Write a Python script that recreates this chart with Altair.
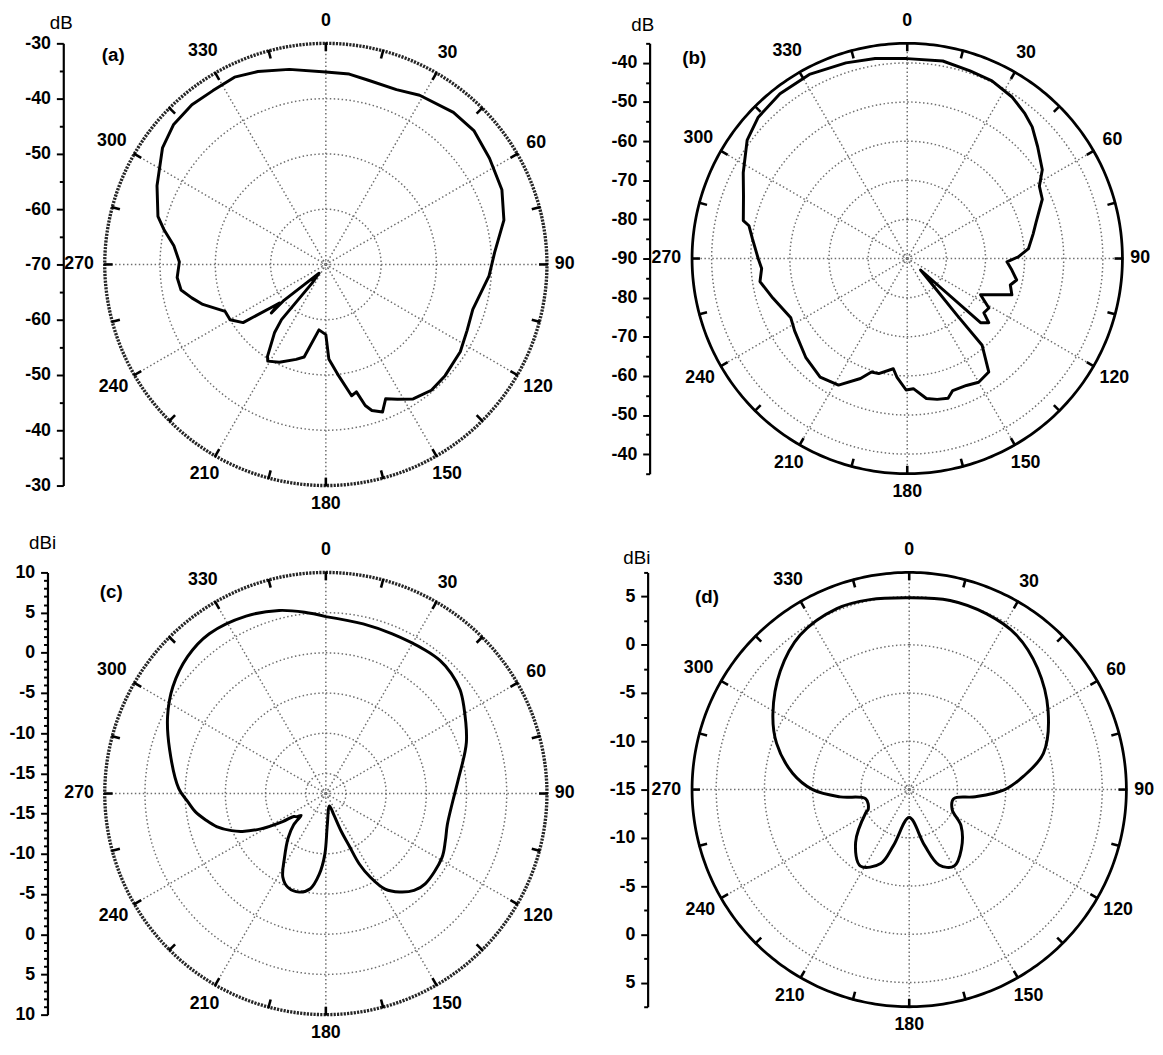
import altair as alt
import pandas as pd

# ---------------- data ----------------
# (a) radiation pattern, dB (angle in degrees, clockwise from top)
A_ANG = [0, 7, 13, 22, 29, 40, 48, 57, 67, 76, 86, 94, 107, 115, 123, 133, 140, 147, 152, 156,
         159, 162.5, 164.4, 166.5, 168.9, 173.4, 178.2, 180, 186, 193.2, 197.4, 205.4, 211, 212.4, 217,
         218.8, 216.4, 217.9, 229.4, 228.3, 230.3, 231.5, 234.9, 240, 245, 252, 256, 260, 265, 271,
         277, 282, 286, 295, 305.5, 312.5, 320, 327, 334, 340.6, 349.4, 360]
A_VAL = [-35.2, -35.3, -35.8, -35.9, -35.0, -34.1, -33.9, -34.7, -35.4, -36.8, -39.4, -40.4, -42.2, -41.8, -41.0,
         -40.5, -40.3, -41.0, -42.4, -43.4, -41.4, -42.3, -43.5, -46.3, -45.8, -49.7, -52.9, -57.3, -58.1, -52.8,
         -52.0, -50.4, -49.6, -50.3, -54.6, -57.2, -65.8, -68.0, -60.1, -56.8, -59.1, -57.7, -51.7, -50.0, -49.9,
         -46.6, -45.0, -43.4, -43.0, -43.5, -42.3, -40.1, -38.4, -36.3, -33.7, -32.6, -32.3, -32.5, -32.3, -33.0,
         -34.1, -35.2]

# (b) radiation pattern, dB
B_ANG = [0, 10.2, 18.5, 25.5, 33.1, 39.1, 43.5, 49.4, 56.7, 61.3, 66.3, 74.3, 78.9, 85.3, 89.1, 91.9, 96.3,
         101.1, 104.4, 109.1, 116.3, 121.2, 125.3, 128.2, 131.2, 130.7, 138.7, 139.2, 144.3, 150, 155, 161,
         163.7, 168, 172.2, 177.3, 180.5, 185, 187.2, 193.9, 197.5, 201.3, 208.5, 216.3, 225.8, 237.3, 243,
         253.6, 261.1, 266.1, 270, 277.3, 281.7, 283, 290.9, 297.6, 306.5, 313.5, 322.3, 332, 342.6, 350.9, 360]
B_VAL = [-38.9, -38.7, -39.4, -39.7, -40.8, -42.3, -43.6, -46.1, -48.7, -51.5, -52.3, -55.8, -57.2, -58.9, -61.6,
         -64.5, -63.1, -61.5, -62.8, -61.7, -69.1, -65.6, -66.0, -63.5, -65.1, -85.5, -70.5, -60.7, -54.3, -53.5,
         -54.2, -54.3, -52.8, -53.2, -53.9, -56.7, -56.4, -59.6, -61.6, -59.7, -59.6, -57.1, -53.2, -52.4, -53.8,
         -55.8, -56.6, -54.2, -51.9, -52.7, -51.9, -50.1, -48.7, -47.0, -45.2, -42.7, -39.1, -37.5, -36.8, -36.7,
         -37.6, -38.2, -38.9]

# (c) gain pattern, dBi
C_ANG = [0, 12.4, 22.6, 34.8, 40.6, 46.2, 52.3, 57.7, 70, 83.6, 93.7, 104.5, 111.8, 119, 132.3, 137.7, 143.2,
         148.2, 152, 154.6, 156, 157.8, 159.5, 163.8, 177.3, 181, 184.7, 189.3, 195.1, 201.9, 207.2, 212.8,
         220.3, 225.8, 228.5, 231.1, 234.4, 237, 241.5, 245.6, 248.5, 253.2, 257.6, 262.1, 266.6, 271.9, 285.8,
         296, 304.9, 314.7, 323.9, 335.8, 345.7, 353.3, 360]
C_VAL = [4.5, 4.1, 4.0, 4.2, 4.3, 4.1, 3.6, 2.8, 1.1, -0.9, -1.7, -1.9, -1.5, -1.0, -0.8, -1.2, -2.2,
         -3.5, -5.7, -7.8, -10.5, -12.4, -14.7, -15.9, -13.6, -9.9, -7.4, -5.5, -4.8, -4.9, -5.8, -8.0,
         -10.25, -11.9, -13.4, -12.9, -12.6, -11.1, -8.3, -6.1, -4.9, -3.3, -2.2, -1.1, -0.3, 0.8, 2.7,
         4.4, 5.7, 6.7, 7.1, 6.7, 6.0, 5.2, 4.5]

# (d) gain pattern, dBi
D_ANG = [0, 12.2, 23.8, 34.6, 46.6, 60.4, 74.9, 83.4, 90, 96.2, 101.6, 114.8, 124.9, 138.8, 149.7, 158.4,
         164.6, 180, 195.7, 201.1, 212.5, 225.4, 241.9, 244.5, 258, 264, 270, 278, 289.2, 299, 312.6, 324.8,
         338.2, 348.3, 360]
D_VAL = [4.87, 5.05, 4.9, 4.5, 3.3, 1.55, -0.6, -3.1, -5.1, -8.1, -10.3, -10.1, -8.45, -6.8, -5.8, -6.6,
         -9.0, -12.1, -9.0, -6.8, -5.6, -7.2, -9.9, -10.3, -10.4, -7.8, -5.0, -2.8, -0.45, 1.15, 3.15, 4.6,
         5.2, 5.1, 4.87]

ANGLE_LABELS = [0, 30, 60, 90, 120, 150, 180, 210, 240, 270, 300, 330]
TICK_ANGLES = list(range(0, 360, 15))

PANELS = [
    dict(tag="(a)", unit="dB", ang=A_ANG, val=A_VAL, center=-70, outer=-30, rings=[-60, -50, -40],
         rpx=224, step=5, major=10, offset=42, unitpos=(-44, -21), dashed=True, smooth=False, tagpos=(-3, 12)),
    dict(tag="(b)", unit="dB", ang=B_ANG, val=B_VAL, center=-90, outer=-35, rings=[-80, -70, -60, -50, -40],
         rpx=218, step=5, major=10, offset=43, unitpos=(-50, -18), dashed=False, smooth=False, tagpos=(-10, 15)),
    dict(tag="(c)", unit="dBi", ang=C_ANG, val=C_VAL, center=-17.5, outer=10, rings=[-15, -10, -5, 0, 5],
         rpx=224, step=1, major=5, offset=58, unitpos=(-63, -30), dashed=True, smooth=True, tagpos=(-5, 20)),
    dict(tag="(d)", unit="dBi", ang=D_ANG, val=D_VAL, center=-15, outer=7.5, rings=[-10, -5, 0, 5],
         rpx=220, step=2.5, major=5, offset=45, unitpos=(-56, -15), dashed=False, smooth=True, tagpos=(3, 25)),
]

FONT = "Liberation Sans"


def make_panel(p):
    C = p["center"]
    O = p["outer"]
    Rdb = O - C
    R = p["rpx"]
    ppu = R / Rdb  # pixels per dB

    sc = alt.Scale(domain=[-Rdb, Rdb], nice=False, zero=False)

    # axis tick values (offset from the centre, mirrored)
    n = int(round(Rdb / p["step"]))
    vals = [round(k * p["step"], 3) for k in range(-n, n + 1)]
    if p["step"] == 1:  # (c): ticks fall at half-integer offsets
        vals = [round(k + 0.5, 3) for k in range(-28, 28) if abs(k + 0.5) <= Rdb + 1e-6]
    major = f"abs(({C} + abs(datum.value)) % {p['major']}) < 0.01"
    yaxis = alt.Axis(
        values=vals,
        labelExpr=f"{major} ? '' + ({C} + abs(datum.value)) : ''",
        tickSize={"condition": {"test": major, "value": 7}, "value": 4},
        tickWidth=2, tickColor="black", domainWidth=2.2, domainColor="black",
        labelColor="black", labelFont=FONT, labelFontSize=18, labelFontWeight="bold",
        labelPadding=6, labelOverlap=False, labelFlush=False, grid=False,
        offset=p["offset"], title=None,
    )

    def X(f):
        return alt.X(f, type="quantitative", scale=sc, axis=None)

    def Y(f):
        return alt.Y(f, type="quantitative", scale=sc, axis=yaxis)

    rad = "datum.deg*PI/180"

    # grid rings
    ring_df = pd.DataFrame([(r, a) for r in p["rings"] for a in range(0, 361, 2)], columns=["ring", "deg"])
    rings = alt.Chart(ring_df).transform_calculate(
        x=f"(datum.ring - ({C})) * sin({rad})", y=f"(datum.ring - ({C})) * cos({rad})"
    ).mark_line(stroke="#6e6e6e", strokeWidth=1.5, strokeDash=[1.5, 2.5]).encode(
        x=X("x"), y=Y("y"), detail="ring:N", order="deg:Q")

    # spokes
    sp_df = pd.DataFrame({"deg": list(range(0, 360, 30))})
    spokes = alt.Chart(sp_df).transform_calculate(
        x0="0", y0="0", x2=f"{Rdb} * sin({rad})", y2=f"{Rdb} * cos({rad})"
    ).mark_rule(stroke="#6e6e6e", strokeWidth=1.5, strokeDash=[1.5, 2.5]).encode(
        x=X("x0"), y=Y("y0"), x2="x2:Q", y2="y2:Q")

    # outer circle
    out_df = pd.DataFrame({"deg": list(range(0, 361, 1)), "ring": O})
    if p["dashed"]:
        ostyle = dict(stroke="#262626", strokeWidth=3.4, strokeDash=[2.2, 1.2])
    else:
        ostyle = dict(stroke="black", strokeWidth=2.8)
    outer = alt.Chart(out_df).transform_calculate(
        x=f"(datum.ring - ({C})) * sin({rad})", y=f"(datum.ring - ({C})) * cos({rad})"
    ).mark_line(**ostyle).encode(x=X("x"), y=Y("y"), order="deg:Q")

    # ticks on the outer circle
    tk_df = pd.DataFrame({"deg": TICK_ANGLES})
    r1 = Rdb - 8 / ppu
    r2 = Rdb + 1 / ppu
    ticks = alt.Chart(tk_df).transform_calculate(
        x1=f"{r1} * sin({rad})", y1=f"{r1} * cos({rad})",
        x2=f"{r2} * sin({rad})", y2=f"{r2} * cos({rad})"
    ).mark_rule(stroke="black", strokeWidth=2.6).encode(
        x=X("x1"), y=Y("y1"), x2="x2:Q", y2="y2:Q")

    # angle labels
    lab_df = pd.DataFrame({"deg": ANGLE_LABELS, "txt": [str(a) for a in ANGLE_LABELS]})
    off = (f"(21 + 2*cos({rad}) + (length(datum.txt) >= 3 ? 5*abs(sin({rad})) : 0)"
           f" - (sin({rad}) > 0.9 ? 3 : 0))")
    rl = f"({Rdb} + {off}/{ppu})"
    labels = alt.Chart(lab_df).transform_calculate(
        x=f"{rl} * sin({rad})", y=f"{rl} * cos({rad})"
    ).mark_text(font=FONT, fontSize=18, fontWeight="bold", color="black",
                align="center", baseline="middle").encode(
        x=X("x"), y=Y("y"), text="txt:N")

    # centre marker
    cen = alt.Chart(pd.DataFrame({"x": [0], "y": [0]})).mark_point(
        shape="square", size=45, filled=False, stroke="#6e6e6e", strokeWidth=1.3,
        strokeDash=[1.2, 1.2]).encode(x=X("x"), y=Y("y"))

    # pattern curve
    cur_df = pd.DataFrame({"deg": p["ang"], "val": p["val"], "idx": range(len(p["ang"]))})
    cmark = dict(stroke="black", strokeWidth=3, strokeJoin="round")
    if p["smooth"]:
        cmark["interpolate"] = "catmull-rom"
    curve = alt.Chart(cur_df).transform_calculate(
        x=f"(datum.val - ({C})) * sin({rad})", y=f"(datum.val - ({C})) * cos({rad})"
    ).mark_line(**cmark).encode(x=X("x"), y=Y("y"), order="idx:Q")

    # panel tag
    tag = alt.Chart(pd.DataFrame({"t": [p["tag"]]})).mark_text(
        font=FONT, fontSize=19, fontWeight="bold", color="black", align="left", baseline="middle"
    ).encode(x=alt.value(p["tagpos"][0]), y=alt.value(p["tagpos"][1]), text="t:N")

    # unit label above the radial axis
    unit = alt.Chart(pd.DataFrame({"u": [p["unit"]]})).mark_text(
        font=FONT, fontSize=19, fontWeight="normal", color="black", align="center", baseline="middle"
    ).encode(x=alt.value(p["unitpos"][0]), y=alt.value(p["unitpos"][1]), text="u:N")

    return alt.layer(rings, spokes, outer, ticks, labels, cen, curve, tag, unit).properties(
        width=2 * R, height=2 * R)


charts = [make_panel(p) for p in PANELS]

chart = alt.concat(
    *charts, columns=2, spacing={"row": 88, "column": 147}, bounds="flush"
).configure_view(stroke=None).properties(
    padding={"top": -4, "left": 0, "right": 0, "bottom": 0})

chart.save("out.html", embed_options={"renderer": "svg", "actions": False})
